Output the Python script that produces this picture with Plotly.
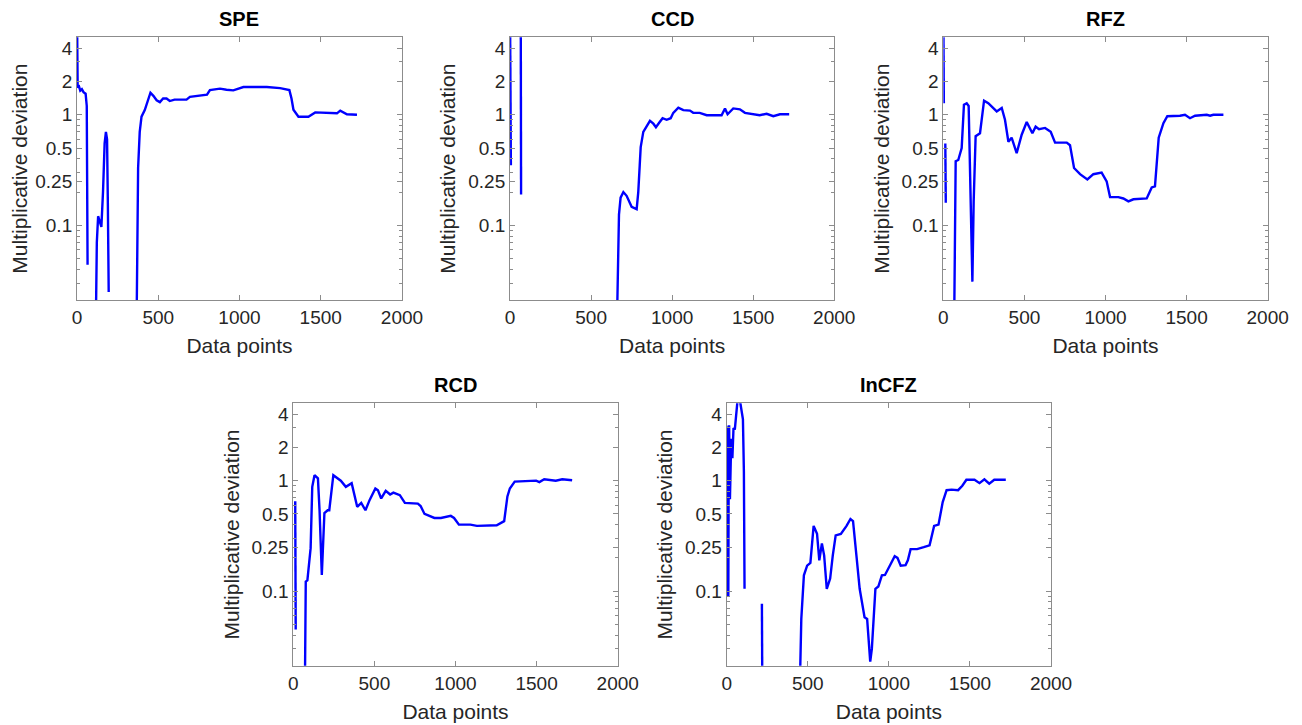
import plotly.graph_objects as go

# values; None = gap in the curve,
# 8 / 0.01 = point that runs past the top / bottom of the axis box
spe_x = [0, 4, 10, 20, 30, 40, 53, 60, 65, None,
         115, 122, 130, 140, 150, 160, 170, 178, 185, 190, 195, None,
         366, 371, 376, 386, 397, 417, 435, 452, 470, 490, 510, 530, 551, 571, 600, 640, 674, 695,
         756, 800, 818, 880, 920, 962, 1024, 1100, 1168, 1250, 1307, 1320, 1332, 1363, 1424,
         1466, 1520, 1579, 1600, 1620, 1661, 1723]
spe_y = [8, 1.75, 1.85, 1.65, 1.7, 1.6, 1.55, 1.2, 0.044, None,
         0.01, 0.07, 0.121, 0.11, 0.097, 0.2, 0.55, 0.70, 0.6, 0.15, 0.025, None,
         0.01, 0.1, 0.33, 0.7, 0.96, 1.1, 1.3, 1.58, 1.48, 1.35, 1.3, 1.4, 1.4, 1.33, 1.37, 1.37, 1.37, 1.45,
         1.5, 1.52, 1.67, 1.72, 1.68, 1.66, 1.78, 1.78, 1.78, 1.74, 1.67, 1.4, 1.11, 0.96, 0.96,
         1.05, 1.04, 1.04, 1.03, 1.09, 1.01, 1.0]

ccd_x = [0, 5, None, 66, 68, None,
         658, 665, 672, 682, 699, 719, 750, 781, 791, 800, 806, 822, 843, 863, 884, 900, 921, 941,
         966, 991, 1007, 1038, 1069, 1110, 1130, 1170, 1213, 1305, 1326, 1342, 1377, 1418, 1449,
         1500, 1540, 1583, 1624, 1665, 1722]
ccd_y = [8, 0.35, None, 8, 0.19, None,
         0.01, 0.06, 0.125, 0.178, 0.2, 0.185, 0.147, 0.14, 0.2, 0.35, 0.51, 0.7, 0.8, 0.88, 0.83, 0.77, 0.85, 0.93,
         0.9, 0.93, 1.04, 1.16, 1.1, 1.09, 1.04, 1.04, 0.99, 0.99, 1.14, 1.01, 1.14, 1.12, 1.04,
         1.02, 0.99, 1.02, 0.97, 1.01, 1.01]

rfz_x = [0, 3, None, 12, 15, None,
         66, 70, 76, 92, 113, 127, 144, 156, 168, 179, 187, 199, 226, 251, 277, 329, 360, 380, 401, 421,
         452, 483, 514, 549, 569, 590, 627, 662, 689, 761, 781, 806, 843, 888, 925, 976, 1007, 1028,
         1079, 1110, 1141, 1172, 1254, 1285, 1305, 1328, 1357, 1381, 1459, 1490, 1521, 1552, 1624,
         1645, 1665, 1727]
rfz_y = [8, 1.27, None, 0.55, 0.16, None,
         0.01, 0.08, 0.38, 0.39, 0.5, 1.23, 1.27, 1.2, 0.165, 0.031, 0.165, 0.64, 0.68, 1.34, 1.27, 1.07, 1.15, 0.9, 0.57, 0.62,
         0.45, 0.66, 0.86, 0.68, 0.78, 0.74, 0.76, 0.70, 0.56, 0.56, 0.53, 0.33, 0.29, 0.26, 0.29, 0.30, 0.25, 0.18,
         0.18, 0.175, 0.165, 0.172, 0.175, 0.22, 0.225, 0.62, 0.84, 0.97, 0.98, 1.0, 0.93, 0.98, 1.0,
         0.98, 1.0, 1.0]

rcd_x = [12, 15, None,
         71, 77, 87, 97, 107, 117, 131, 152, 162, 176, 192, 212, 222, 247, 273, 293, 324, 360, 394,
         419, 445, 471, 506, 522, 542, 570, 597, 617, 657, 688, 768, 785, 809, 870, 910, 971, 991,
         1021, 1092, 1132, 1254, 1300, 1320, 1335, 1365, 1497, 1517, 1547, 1618, 1658, 1719]
rcd_y = [0.65, 0.045, None,
         0.01, 0.122, 0.125, 0.19, 0.245, 0.88, 1.12, 1.05, 0.54, 0.14, 0.51, 0.54, 0.54, 1.12, 1.05, 1.0, 0.88, 0.95, 0.58,
         0.63, 0.54, 0.67, 0.85, 0.82, 0.69, 0.81, 0.75, 0.78, 0.74, 0.63, 0.62, 0.59, 0.5, 0.46, 0.46, 0.48, 0.46,
         0.40, 0.40, 0.39, 0.395, 0.43, 0.72, 0.85, 0.98, 1.0, 0.97, 1.03, 1.0, 1.03, 1.01]

incfz_x = [2, 4, 6, 10, 13, 15, 20, 28, 35, 42, 50, 60, 70, 80, 90, 100, 106, 110, None,
           217, 220, None,
           449, 460, 476, 496, 516, 536, 557, 571, 587, 601, 617, 638, 654, 672, 704, 739, 763, 779,
           800, 820, 850, 866, 885, 895, 917, 935, 957, 976, 1012, 1036, 1053, 1073, 1103, 1117, 1134,
           1174, 1215, 1251, 1279, 1306, 1332, 1356, 1387, 1427, 1453, 1478, 1528, 1559, 1589, 1619,
           1650, 1721]
incfz_y = [0.5, 3.1, 0.091, 0.091, 3.1, 3.1, 0.68, 2.4, 1.6, 3.0, 2.9, 4.9, 6, 5.5, 4.2, 3.6, 1.2, 0.105, None,
           0.077, 0.01, None,
           0.01, 0.056, 0.139, 0.17, 0.18, 0.39, 0.33, 0.19, 0.27, 0.21, 0.105, 0.13, 0.21, 0.32, 0.33, 0.39, 0.45, 0.43,
           0.21, 0.105, 0.058, 0.056, 0.023, 0.03, 0.105, 0.11, 0.139, 0.14, 0.177, 0.207, 0.2, 0.17, 0.172, 0.19, 0.24,
           0.24, 0.25, 0.26, 0.39, 0.4, 0.64, 0.82, 0.83, 0.82, 0.9, 1.02, 1.02, 0.95, 1.03, 0.94,
           1.02, 1.02]

titles = ["SPE", "CCD", "RFZ", "RCD", "InCFZ"]
series = [(spe_x, spe_y), (ccd_x, ccd_y), (rfz_x, rfz_y), (rcd_x, rcd_y), (incfz_x, incfz_y)]
ytick_vals = [0.1, 0.25, 0.5, 1, 2, 4]
ytick_text = ["0.1", "0.25", "0.5", "1", "2", "4"]
minor_vals = [0.03, 0.04, 0.05, 0.06, 0.07, 0.08, 0.09, 0.2, 0.3, 0.4, 0.6, 0.7, 0.8, 0.9, 3]

# axes boxes in paper fractions (x0, x1, y0, y1); page body adds an 8px offset
boxes = [
    (0.0530, 0.3026, 0.5972, 0.9596),
    (0.3856, 0.6346, 0.5972, 0.9596),
    (0.7184, 0.9675, 0.5972, 0.9596),
    (0.2191, 0.4683, 0.0928, 0.4547),
    (0.5520, 0.8011, 0.0928, 0.4547),
]

FONT = "Liberation Sans, Arial, Helvetica, sans-serif"
AXC = "#262626"
BOXC = "#8c8c8c"

fig = go.Figure()
layout = {}
for i, ((xs, ys), box, title) in enumerate(zip(series, boxes, titles)):
    n = "" if i == 0 else str(i + 1)
    fig.add_trace(go.Scatter(x=xs, y=ys, mode="lines", connectgaps=False,
                             line=dict(color="#0000ff", width=2.4),
                             xaxis="x" + n, yaxis="y" + n, showlegend=False))
    layout["xaxis" + n] = dict(
        domain=[box[0], box[1]], anchor="y" + n, range=[0, 2000], automargin=False,
        tickvals=[0, 500, 1000, 1500, 2000], ticks="inside", ticklen=5,
        tickcolor=BOXC, showline=True, linecolor=BOXC, linewidth=1, mirror="ticks",
        showgrid=False, zeroline=False,
        tickfont=dict(family=FONT, size=19, color=AXC),
        title=dict(text="Data points", font=dict(family=FONT, size=21, color=AXC), standoff=11),
    )
    layout["yaxis" + n] = dict(
        domain=[box[2], box[3]], anchor="x" + n, type="log", range=[-1.675, 0.70], automargin=False,
        tickvals=ytick_vals, ticktext=ytick_text, ticks="inside", ticklen=5,
        tickcolor=BOXC, showline=True, linecolor=BOXC, linewidth=1, mirror="ticks",
        showgrid=False, zeroline=False,
        minor=dict(tickvals=minor_vals, ticks="inside", ticklen=3, tickcolor=BOXC),
        tickfont=dict(family=FONT, size=19, color=AXC),
        title=dict(text="Multiplicative deviation", font=dict(family=FONT, size=21, color=AXC), standoff=6),
    )
    fig.add_annotation(text="<b>" + title + "</b>", xref="paper", yref="paper",
                       x=(box[0] + box[1]) / 2, y=box[3], yshift=5,
                       xanchor="center", yanchor="bottom", showarrow=False,
                       font=dict(family=FONT, size=20, color="black"))

fig.update_layout(width=1302, height=725,
                  margin=dict(l=0, r=0, t=0, b=0, autoexpand=False),
                  paper_bgcolor="white", plot_bgcolor="white", **layout)
fig.write_html("out.html")
